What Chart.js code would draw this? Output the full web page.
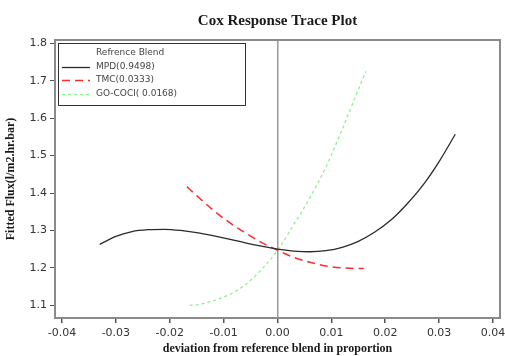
<!DOCTYPE html>
<html>
<head>
<meta charset="utf-8">
<script src="https://cdn.jsdelivr.net/npm/chart.js@4"></script>
<style>
  html, body { margin: 0; padding: 0; background: #fff; }
  #wrap { width: 505px; height: 356px; }
</style>
</head>
<body>
<div id="wrap"><canvas id="chart"></canvas></div>
<script>
// --- data ---
const mpdX = [-0.033, -0.030, -0.027, -0.024, -0.021, -0.018, -0.015, -0.012, -0.009, -0.006, -0.003, 0.000,
              0.003, 0.006, 0.009, 0.012, 0.015, 0.018, 0.021, 0.024, 0.027, 0.030, 0.033];
const mpdY = [1.263, 1.284, 1.297, 1.302, 1.303, 1.300, 1.294, 1.286, 1.277, 1.267, 1.258, 1.250,
              1.245, 1.243, 1.246, 1.255, 1.271, 1.295, 1.327, 1.370, 1.421, 1.484, 1.557];

const tmcX = [-0.0168, -0.015, -0.012, -0.009, -0.006, -0.003, 0.000, 0.003, 0.006, 0.009, 0.012, 0.015, 0.016];
const tmcY = [1.417, 1.393, 1.355, 1.322, 1.294, 1.268, 1.247, 1.228, 1.215, 1.205, 1.200, 1.198, 1.198];

const gocX = [-0.0163, -0.015, -0.012, -0.009, -0.006, -0.003, 0.000, 0.003, 0.006, 0.009, 0.012, 0.015, 0.0164];
const gocY = [1.100, 1.101, 1.112, 1.128, 1.155, 1.195, 1.247, 1.315, 1.387, 1.470, 1.570, 1.676, 1.725];

const seriesNames = ["MPD(0.9498)", "TMC(0.0333)", "GO-COCl( 0.0168)"];
const legendTitle = "Refrence Blend";

const xTicks = [-0.04, -0.03, -0.02, -0.01, 0.00, 0.01, 0.02, 0.03, 0.04];
const yTicks = [1.1, 1.2, 1.3, 1.4, 1.5, 1.6, 1.7, 1.8];

function pts(xs, ys) {
    return xs.map((x, i) => ({ x: x, y: ys[i] }));
}

// frame round the plot area + legend box in the upper left
const framePlugin = {
    id: "frame",
    afterDraw(chart) {
        const { ctx, chartArea: a } = chart;
        ctx.save();
        ctx.strokeStyle = "#8a8a8a";
        ctx.lineWidth = 2;
        ctx.strokeRect(a.left, a.top, a.right - a.left, a.bottom - a.top);

        // legend
        const lx = a.left + 3, ly = a.top + 3, lw = 187, lh = 62;
        ctx.fillStyle = "#fff";
        ctx.fillRect(lx, ly, lw, lh);
        ctx.strokeStyle = "#333";
        ctx.lineWidth = 1;
        ctx.strokeRect(lx + 0.5, ly + 0.5, lw, lh);

        ctx.font = "9px 'DejaVu Sans'";
        ctx.fillStyle = "#444";
        ctx.textBaseline = "middle";
        ctx.fillText(legendTitle, lx + 38, ly + 10);
        chart.data.datasets.forEach((ds, i) => {
            const y = ly + 23.5 + i * 13.5;
            ctx.beginPath();
            ctx.strokeStyle = ds.borderColor;
            ctx.lineWidth = 1.3;
            ctx.setLineDash(ds.borderDash || []);
            ctx.moveTo(lx + 4, Math.round(y) + 0.5);
            ctx.lineTo(lx + 32, Math.round(y) + 0.5);
            ctx.stroke();
            ctx.setLineDash([]);
            ctx.fillText(ds.label, lx + 38, y);
        });
        ctx.restore();
    }
};

new Chart(document.getElementById("chart"), {
    type: "line",
    data: {
        datasets: [
            { label: seriesNames[0], data: pts(mpdX, mpdY), borderColor: "#2a2a2a", borderWidth: 1.3 },
            { label: seriesNames[1], data: pts(tmcX, tmcY), borderColor: "#ff2a2a", borderWidth: 1.5, borderDash: [8, 5] },
            { label: seriesNames[2], data: pts(gocX, gocY), borderColor: "#8fef8f", borderWidth: 1.3, borderDash: [3, 3] }
        ]
    },
    options: {
        responsive: true,
        maintainAspectRatio: false,
        animation: false,
        layout: { padding: 0 },
        elements: {
            point: { radius: 0 },
            line: { cubicInterpolationMode: "monotone", fill: false }
        },
        plugins: {
            legend: { display: false },
            tooltip: { enabled: false },
            title: {
                display: true,
                fullSize: false,   // centre over the plot area, not the canvas
                text: "Cox Response Trace Plot",
                color: "#1a1a1a",
                font: { family: "'Liberation Serif'", size: 15, weight: "bold" },
                padding: { top: 12, bottom: 10 }
            }
        },
        scales: {
            x: {
                type: "linear",
                min: -0.0413,
                max: 0.0413,
                afterBuildTicks: s => { s.ticks = xTicks.map(v => ({ value: v })); },
                afterFit: s => { s.height = 38; s.paddingLeft = 0; s.paddingRight = 5; },
                ticks: {
                    color: "#333",
                    font: { family: "'DejaVu Sans'", size: 11 },
                    padding: 4,
                    maxRotation: 0,
                    callback: v => v.toFixed(2)
                },
                grid: {
                    drawOnChartArea: true,
                    color: c => (c.tick && c.tick.value === 0 ? "#9a9a9a" : "rgba(0,0,0,0)"),
                    lineWidth: 1.5,
                    tickLength: 5,
                    tickColor: "#555"
                },
                border: { display: true, color: "#8a8a8a", width: 2 },
                title: {
                    display: true,
                    text: "deviation from reference blend in proportion",
                    color: "#1a1a1a",
                    font: { family: "'Liberation Serif'", size: 12, weight: "bold" },
                    padding: { top: 0, bottom: 0 }
                }
            },
            y: {
                type: "linear",
                min: 1.066,
                max: 1.809,
                afterBuildTicks: s => { s.ticks = yTicks.map(v => ({ value: v })); },
                afterFit: s => { s.width = 55; s.paddingTop = 0; s.paddingBottom = 0; },
                ticks: {
                    color: "#333",
                    font: { family: "'DejaVu Sans'", size: 11 },
                    padding: 3,
                    callback: v => v.toFixed(1)
                },
                grid: {
                    drawOnChartArea: false,
                    tickLength: 5,
                    tickColor: "#555"
                },
                border: { display: true, color: "#8a8a8a", width: 2 },
                title: {
                    display: true,
                    text: "Fitted Flux(l/m2.hr.bar)",
                    color: "#1a1a1a",
                    font: { family: "'Liberation Serif'", size: 12, weight: "bold" },
                    padding: { top: 4, bottom: 0 }
                }
            }
        }
    },
    plugins: [framePlugin]
});
</script>
</body>
</html>
